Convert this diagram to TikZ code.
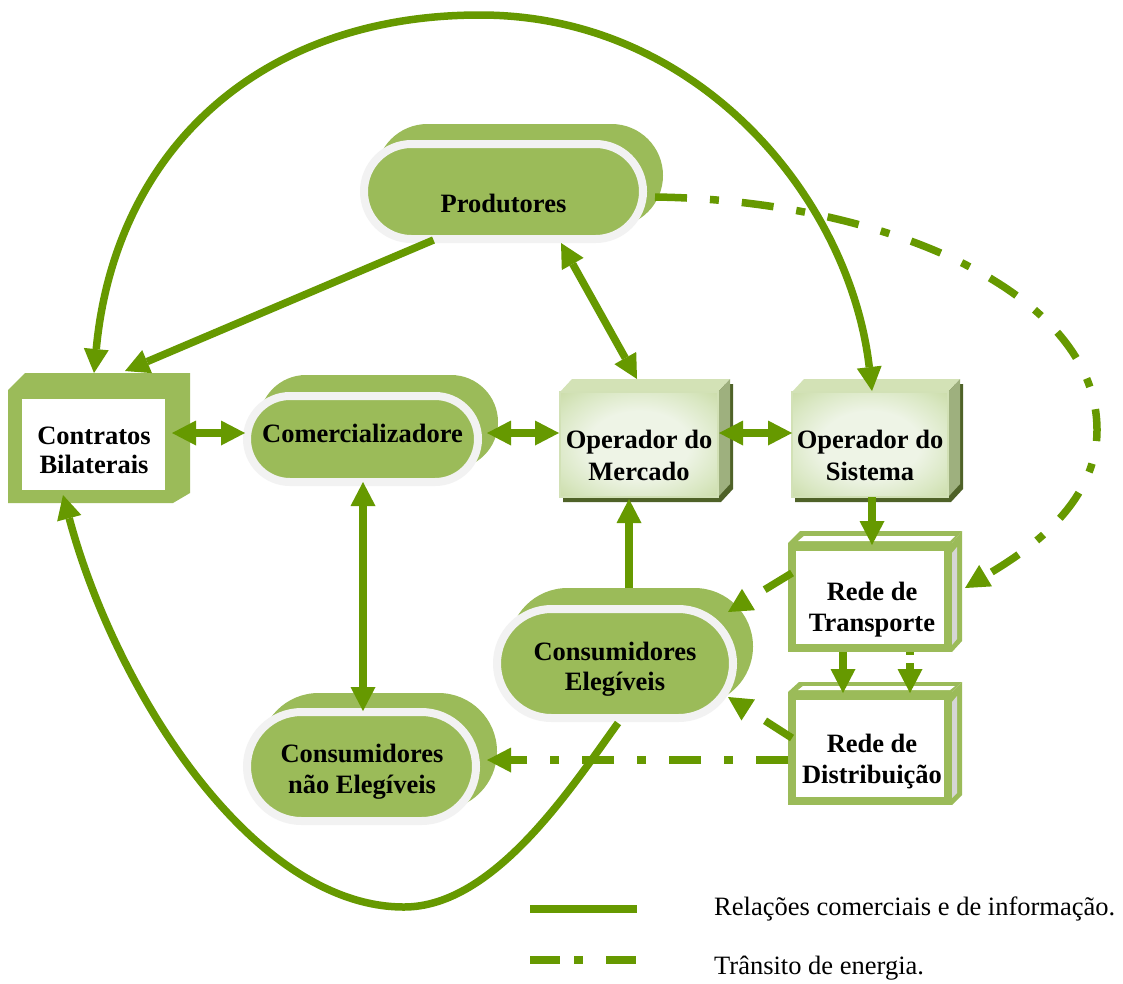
\documentclass[tikz,border=0pt]{standalone}
\usepackage{fontspec}
\setmainfont{Liberation Serif}
\usetikzlibrary{arrows.meta,calc,shapes.misc}

\definecolor{pillgreen}{HTML}{9BBB59}
\definecolor{pillrim}{HTML}{F2F2F2}
\definecolor{linkgreen}{RGB}{102,153,0}
\definecolor{boxlight}{HTML}{EEF4E6}
\definecolor{boxmid}{HTML}{D9E7C2}
\definecolor{boxdark}{HTML}{C3D69B}
\definecolor{boxedge}{HTML}{D2E1B6}
\definecolor{boxtop}{HTML}{D3E2B6}
\definecolor{boxside}{HTML}{9EB07E}
\definecolor{boxshadow}{HTML}{4F6228}
\definecolor{netside}{HTML}{D6D6D6}

\pgfdeclareradialshading{boxglow}{\pgfpoint{0bp}{0bp}}{%
  color(0bp)=(boxlight); color(16bp)=(boxlight); color(28bp)=(boxmid);
  color(40bp)=(boxdark); color(50bp)=(boxdark)}

\begin{document}
\begin{tikzpicture}[x=1pt,y=-1pt,
  pill/.style={rounded rectangle, fill=pillgreen, draw=pillrim, line width=8pt,
    inner sep=0pt, outer sep=4pt},
  pillback/.style={rounded rectangle, fill=pillgreen, inner sep=0pt, outer sep=0pt},
  opface/.style={rectangle, shade, shading=boxglow, draw=boxedge, line width=1.2pt,
    inner sep=0pt, outer sep=0pt},
  netface/.style={rectangle, fill=white, draw=pillgreen, line width=8pt,
    inner sep=0pt, outer sep=4pt},
  lbl/.style={font=\bfseries\fontsize{26.5}{31.5}\selectfont, align=center, inner sep=0pt},
  legendtext/.style={font=\fontsize{26.5}{30}\selectfont, anchor=west, inner sep=0pt},
  greentip/.tip={Triangle[length=24pt,width=25pt,line width=0pt]},
  trade/.style={draw=linkgreen, line width=7.5pt},
  energy/.style={draw=linkgreen, line width=7.5pt,
    dash pattern=on 32pt off 23pt on 9pt off 23pt},
]
\fill[white] (0,0) rectangle (1123,983);
\useasboundingbox (0,0) rectangle (1123,983);

% ---------- Contratos Bilaterais (bevelled frame) ----------
\fill[pillgreen] (8,390) -- (25,373) -- (190,373) -- (190,493) -- (173,503) -- (8,503) -- cycle;
\node[rectangle, fill=white, inner sep=0pt, outer sep=0pt,
  minimum width=143pt, minimum height=91pt] (cb) at (93.5,444.5) {};

% ---------- rounded actors ----------
\node[pillback, minimum width=287pt, minimum height=103pt] (prodback) at (519.5,175.5) {};
\node[pill, minimum width=279pt, minimum height=95pt] (prod) at (503.5,191.5) {};

\node[pillback, minimum width=239pt, minimum height=94pt] (commback) at (378.5,422) {};
\node[pill, minimum width=231pt, minimum height=86pt] (comm) at (362.5,439) {};

\node[pillback, minimum width=244pt, minimum height=117pt] (ceback) at (631,646.5) {};
\node[pill, minimum width=236pt, minimum height=109pt] (ce) at (615,663.5) {};

\node[pillback, minimum width=237pt, minimum height=117pt] (cneback) at (378.5,751.5) {};
\node[pill, minimum width=229pt, minimum height=109pt] (cne) at (361.5,766.5) {};

% ---------- Operador do Mercado (3D block) ----------
\fill[boxshadow] (563,397) -- (575,384) -- (733,384) -- (733,489) -- (721,502) -- (563,502) -- cycle;
\fill[boxtop] (560,392) -- (572,379) -- (730,379) -- (718,392) -- cycle;
\fill[boxside] (718,392) -- (730,379) -- (730,484) -- (718,497) -- cycle;
\node[opface, minimum width=158pt, minimum height=105pt] (om) at (639,444.5) {};

% ---------- Operador do Sistema (3D block) ----------
\fill[boxshadow] (795,397) -- (807,384) -- (963,384) -- (963,489) -- (951,502) -- (795,502) -- cycle;
\fill[boxtop] (792,392) -- (804,379) -- (960,379) -- (948,392) -- cycle;
\fill[boxside] (948,392) -- (960,379) -- (960,484) -- (948,497) -- cycle;
\node[opface, minimum width=156pt, minimum height=105pt] (os) at (870,444.5) {};

% ---------- Rede de Transporte (framed block) ----------
\fill[pillgreen] (788,543) -- (800,531) -- (962,531) -- (952,543) -- cycle;
\fill[white] (798,541) -- (804,536) -- (955,536) -- (950,541) -- cycle;
\fill[pillgreen] (952,543) -- (962,531) -- (962,641) -- (952,652) -- cycle;
\fill[netside] (952,553) -- (957,547) -- (957,639) -- (952,645) -- cycle;
\node[netface, minimum width=156pt, minimum height=101pt] (rt) at (870,597.5) {};

% ---------- Rede de Distribuição (framed block) ----------
\fill[pillgreen] (788,692) -- (799,682) -- (962,682) -- (952,692) -- cycle;
\fill[white] (798,690) -- (803,686) -- (955,686) -- (950,690) -- cycle;
\fill[pillgreen] (952,692) -- (962,682) -- (962,795) -- (952,805) -- cycle;
\fill[netside] (952,702) -- (957,696) -- (957,793) -- (952,798) -- cycle;
\node[netface, minimum width=156pt, minimum height=105pt] (rd) at (870,748.5) {};

% ---------- labels ----------
\node[lbl] (prodtxt) at (503.5,203.2) {Produtores};
\node[lbl, font=\bfseries\fontsize{26.5}{29}\selectfont] (cbtxt) at (94,450.7) {Contratos\\Bilaterais};
\node[lbl] (commtxt) at (362.5,433.2) {Comercializadore};
\node[lbl, font=\bfseries\fontsize{26.5}{32}\selectfont] (omtxt) at (639,455.2) {Operador do\\Mercado};
\node[lbl, font=\bfseries\fontsize{26.5}{32}\selectfont] (ostxt) at (870,455.2) {Operador do\\Sistema};
\node[lbl, font=\bfseries\fontsize{26.5}{30}\selectfont] (cetxt) at (615,669) {Consumidores\\Elegíveis};
\node[lbl] (cnetxt) at (362,771.5) {Consumidores\\não Elegíveis};
\node[lbl] (rttxt) at (872,609.8) {Rede de\\Transporte};
\node[lbl] (rdtxt) at (872,761.5) {Rede de\\Distribuição};

% ---------- commercial / information relations ----------
\coordinate (topapex) at (480,15);
\coordinate (lowapex) at (404,907);
\draw[trade, {greentip}-{greentip}] ($(cb.north)+(0.5,-26)$)
  .. controls (115,150) and (260,15) .. (topapex)
  .. controls (700,15) and (850,200) .. ($(os.north)+(2,-1)$);
\draw[trade, -{greentip}] ($(prod.south)+(-70,-3)$) -- ($(cb.north)+(31.5,-28)$);
\draw[trade, {greentip}-{greentip}] ($(prod.south)+(57.5,0)$) -- ($(om.north)+(-2,-13)$);
\draw[trade, {greentip}-{greentip}] ($(cb.east)+(7,-11.5)$) -- ($(comm.west)+(2,-6)$);
\draw[trade, {greentip}-{greentip}] ($(comm.east)+(5,-6)$) -- ($(om.west)+(-1,-11.5)$);
\draw[trade, {greentip}-{greentip}] ($(om.east)+(1,-11.5)$) -- ($(os.west)+(0,-11.5)$);
\draw[trade, {greentip}-{greentip}] ($(comm.south)+(0.5,-4)$) -- ($(cne.north)+(1.5,3)$);
\draw[trade, -{greentip}] ($(ce.north)+(14,-17)$) -- ($(om.south)+(-10,2)$);
\draw[trade, -{greentip}] ($(ce.south)+(3,1)$)
  .. controls (571,788) and (494,907) .. (lowapex)
  .. controls (252,907) and (115,689) .. ($(cb.south)+(-30.5,5)$);
\draw[trade, -{greentip}] ($(os.south)+(2,0)$) -- ($(rt.north)+(2,2)$);
\draw[trade, -{greentip}] ($(rt.south)+(-27,0)$) -- ($(rd.north)+(-27,1)$);

% ---------- energy flow ----------
\coordinate (eastbend) at (1097,430);
\draw[energy, -{greentip}] ($(prod.east)+(8,5.5)$)
  .. controls (880,200) and (1097,290) .. (eastbend)
  .. controls (1097,510) and (1015,558) .. ($(rt.east)+(13,-9.5)$);
\draw[trade, dash pattern=on 3pt off 8pt on 6pt off 20pt, -{greentip}]
  ($(rt.south)+(40,0)$) -- ($(rd.north)+(40,1)$);
\draw[energy, -{greentip}] ($(rt.west)+(4,-24.5)$) -- ($(ce.east)+(-9,-51.5)$);
\draw[energy, -{greentip}] ($(rd.west)+(4,-10.5)$) -- ($(ce.east)+(-9,33.5)$);
\draw[energy, -{greentip}] ($(rd.west)+(0,11.5)$) -- ($(cne.east)+(7,-6.5)$);

% ---------- legend ----------
\coordinate (keyAa) at (530,909);
\coordinate (keyAb) at (637,909);
\coordinate (keyBa) at (530,960);
\coordinate (keyBb) at (637,960);
\draw[trade] (keyAa) -- (keyAb);
\draw[trade, dash pattern=on 30pt off 14pt on 9pt off 23pt] (keyBa) -- (keyBb);
\node[legendtext] (keyAtxt) at (714,909) {Relações comerciais e de informação.};
\node[legendtext] (keyBtxt) at (714,968) {Trânsito de energia.};
\end{tikzpicture}
\end{document}
